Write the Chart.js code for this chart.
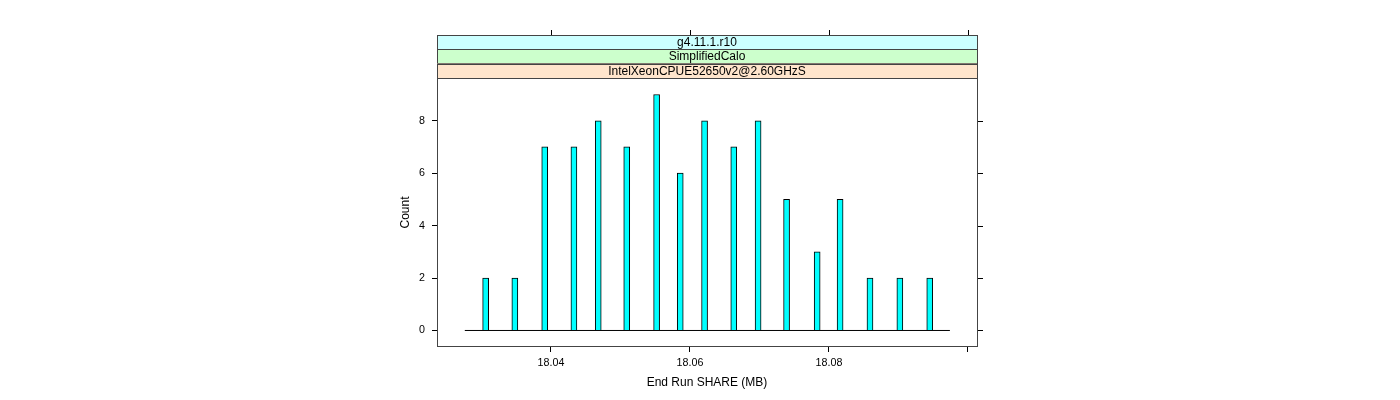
<!DOCTYPE html>
<html>
<head>
<meta charset="utf-8">
<script src="https://cdn.jsdelivr.net/npm/chart.js@4/dist/chart.umd.min.js"></script>
<style>
  html, body { margin: 0; padding: 0; background: #ffffff; }
  canvas { display: block; }
</style>
</head>
<body>
<canvas id="c" width="1400" height="400"></canvas>
<script>
// ---- data ----
const shareValues = [18.0306, 18.0348, 18.0391, 18.0433, 18.0468, 18.0509, 18.0552, 18.0586,
                     18.0621, 18.0663, 18.0698, 18.0739, 18.0783, 18.0816, 18.0859, 18.0902, 18.0945];
const counts      = [2, 2, 7, 7, 8, 7, 9, 6, 8, 7, 8, 5, 3, 5, 2, 2, 2];
const baselineX   = [18.0276, 18.0974];
const xTickValues = [18.04, 18.06, 18.08, 18.10];
const xTickLabels = ['18.04', '18.06', '18.08', ''];
const yTickValues = [0, 2, 4, 6, 8];
const stripLabels = ['g4.11.1.r10', 'SimplifiedCalo', 'IntelXeonCPUE52650v2@2.60GHzS'];
const stripColors = ['#CCFFFF', '#CCFFCC', '#FFE5CC'];
const xTitle = 'End Run SHARE (MB)';
const yTitle = 'Count';

const FONT = "'Liberation Sans', Arial, sans-serif";

const latticePlugin = {
  id: 'lattice',
  afterDraw(chart) {
    const ctx = chart.ctx;
    const a = chart.chartArea;
    const xs = chart.scales.x, ys = chart.scales.y;
    ctx.save();
    ctx.lineWidth = 1;
    // strips
    const h = 14.33;
    const n = stripLabels.length;
    for (let i = 0; i < n; i++) {
      const y0 = a.top - (n - i) * h;
      ctx.fillStyle = stripColors[i];
      ctx.fillRect(a.left, y0, a.right - a.left, h);
      ctx.strokeStyle = '#444';
      ctx.strokeRect(Math.round(a.left) + 0.5, Math.round(y0) + 0.5, Math.round(a.right - a.left), Math.round(h));
      ctx.fillStyle = '#000';
      ctx.font = '12px ' + FONT;
      ctx.textAlign = 'center';
      ctx.textBaseline = 'middle';
      ctx.fillText(stripLabels[i], (a.left + a.right) / 2, y0 + h / 2 + 0.5);
    }
    // panel box
    ctx.strokeStyle = '#444';
    ctx.strokeRect(Math.round(a.left) + 0.5, Math.round(a.top) + 0.5,
                   Math.round(a.right - a.left), Math.round(a.bottom - a.top) - 1);
    // top ticks
    const stripTop = Math.round(a.top - n * h);
    ctx.strokeStyle = '#000';
    ctx.beginPath();
    xTickValues.forEach(v => {
      const px = Math.round(xs.getPixelForValue(v)) + 0.5;
      ctx.moveTo(px, stripTop - 5);
      ctx.lineTo(px, stripTop);
    });
    // right ticks
    yTickValues.forEach(v => {
      const py = Math.round(ys.getPixelForValue(v)) + 0.5;
      ctx.moveTo(a.right + 1, py);
      ctx.lineTo(a.right + 6, py);
    });
    ctx.stroke();
    ctx.restore();
  }
};

new Chart(document.getElementById('c'), {
  data: {
    datasets: [
      {
        type: 'bar',
        data: shareValues.map((v, i) => ({ x: v, y: counts[i] })),
        backgroundColor: '#00FFFF',
        borderColor: '#000000',
        borderWidth: 1,
        barThickness: 6,
        order: 1
      },
      {
        type: 'line',
        data: baselineX.map(v => ({ x: v, y: 0 })),
        borderColor: '#000000',
        borderWidth: 1,
        pointRadius: 0,
        fill: false,
        order: 2
      }
    ]
  },
  options: {
    responsive: false,
    animation: false,
    events: [],
    layout: { padding: { left: 394, right: 423, top: 78, bottom: 6 } },
    plugins: { legend: { display: false }, tooltip: { enabled: false } },
    scales: {
      x: {
        type: 'linear',
        position: 'bottom',
        offset: false,
        min: 18.0236,
        max: 18.1013,
        afterBuildTicks: s => { s.ticks = xTickValues.map(v => ({ value: v })); },
        afterFit: s => { s.height = 47; },
        grid: { offset: false, drawOnChartArea: false, drawTicks: true, tickLength: 5, color: '#000' },
        border: { display: false },
        ticks: {
          color: '#000',
          font: { family: FONT, size: 10.7 },
          padding: 5,
          maxRotation: 0,
          autoSkip: false,
          callback: (v, i) => xTickLabels[i]
        },
        title: { display: true, text: xTitle, color: '#000', font: { family: FONT, size: 12 } }
      },
      y: {
        type: 'linear',
        position: 'left',
        min: -0.63,
        max: 9.63,
        afterBuildTicks: s => { s.ticks = yTickValues.map(v => ({ value: v })); },
        afterFit: s => { s.width = 43; },
        grid: { drawOnChartArea: false, drawTicks: true, tickLength: 5, color: '#000' },
        border: { display: false },
        ticks: {
          color: '#000',
          font: { family: FONT, size: 10.7 },
          padding: 7,
          autoSkip: false,
          callback: v => String(v)
        },
        title: { display: true, text: yTitle, color: '#000', font: { family: FONT, size: 12 } }
      }
    }
  },
  plugins: [latticePlugin]
});
</script>
</body>
</html>
